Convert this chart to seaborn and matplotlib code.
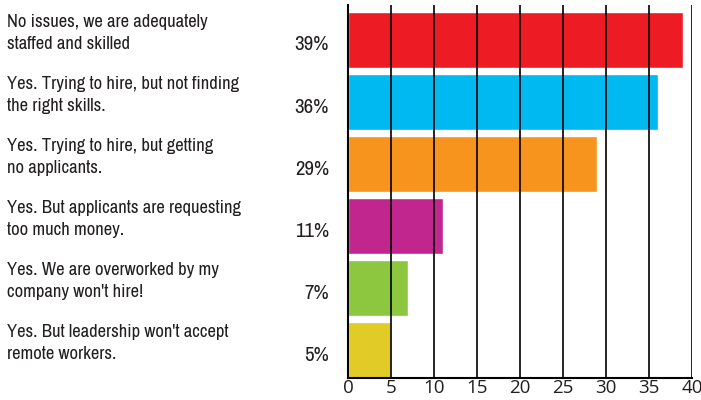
import matplotlib
matplotlib.use("Agg")
import matplotlib.pyplot as plt
import matplotlib.transforms as mtransforms
import seaborn as sns
import pandas as pd

# Survey answers and share of respondents (%)
answers = [
    "No issues, we are adequately\nstaffed and skilled",
    "Yes. Trying to hire, but not finding\nthe right skills.",
    "Yes. Trying to hire, but getting\nno applicants.",
    "Yes. But applicants are requesting\ntoo much money.",
    "Yes. We are overworked by my\ncompany won't hire!",
    "Yes. But leadership won't accept\nremote workers.",
]
shares = [39, 36, 29, 11, 7, 5]
bar_colors = ["#ED1C24", "#00B9F1", "#F7941D", "#C0268E", "#8DC63F", "#E0CB27"]
x_ticks = [0, 5, 10, 15, 20, 25, 30, 35, 40]

df = pd.DataFrame({"answer": answers, "share": shares})

sns.set_style("white")
plt.rcParams["font.family"] = ["Archivo Narrow", "Liberation Sans", "DejaVu Sans"]
tick_font = ["Open Sans", "DejaVu Sans"]

fig = plt.figure(figsize=(7.01, 4.0), dpi=100)
ax = fig.add_axes([0.4964, 0.055, 0.4908, 0.9325])

sns.barplot(
    data=df, x="share", y="answer", hue="answer", palette=bar_colors,
    orient="h", width=0.9, legend=False, saturation=1, ax=ax,
)

ax.set_xlim(0, 40)
ax.set_ylim(5.45, -0.565)
ax.set_xticks(x_ticks)
ax.set_xticklabels([str(t) for t in x_ticks], fontsize=13.5, family=tick_font,
                   color="#231F20")
ax.set_yticks([])
ax.set_xlabel("")
ax.set_ylabel("")
ax.tick_params(axis="x", length=0, pad=1)

# black vertical gridlines drawn over the bars
for t in x_ticks[1:]:
    ax.axvline(t, color="black", lw=1.2, zorder=5)

for side in ["top", "right"]:
    ax.spines[side].set_visible(False)
for side in ["left", "bottom"]:
    ax.spines[side].set_color("black")
    ax.spines[side].set_linewidth(1.5)
    ax.spines[side].set_zorder(6)

trans = mtransforms.blended_transform_factory(fig.transFigure, ax.transData)
for i, (label, val) in enumerate(zip(answers, shares)):
    ax.text(7 / 701, i - 0.11, label, transform=trans, ha="left", va="center",
            fontsize=13.4, color="#231F20", linespacing=1.45, clip_on=False)
    ax.text(329 / 701, i + 0.08, f"{val}%", transform=trans, ha="right",
            va="center", fontsize=15, color="#231F20", clip_on=False)

fig.savefig("out.png", dpi=100)
